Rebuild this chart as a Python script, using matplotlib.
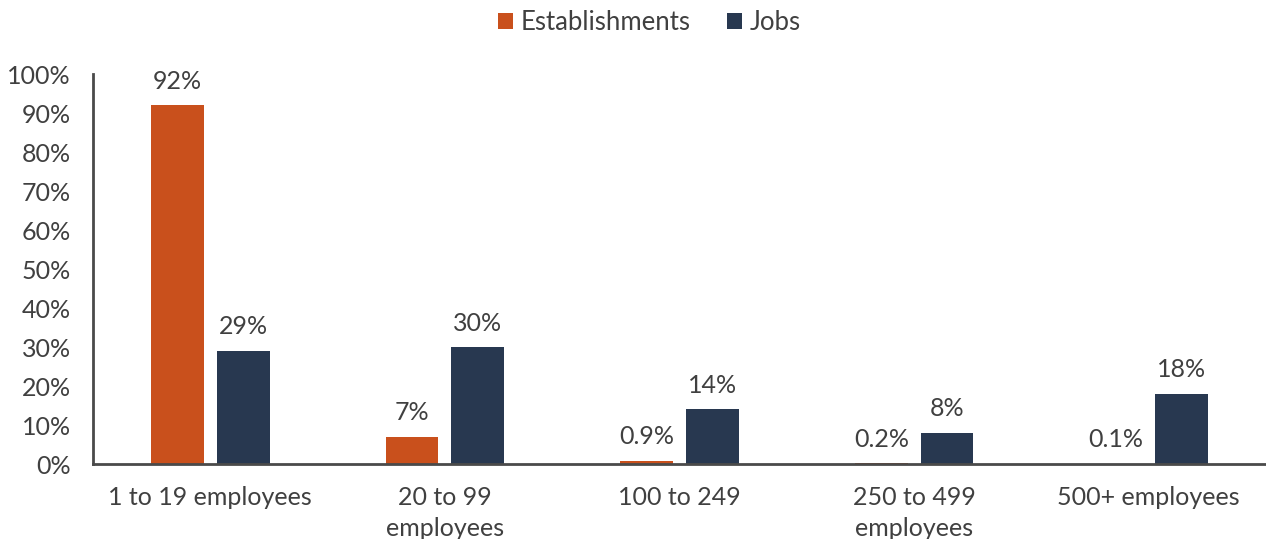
import numpy as np
import matplotlib.pyplot as plt
from matplotlib.ticker import PercentFormatter

plt.rcParams['font.family'] = ['Lato', 'DejaVu Sans']

categories = ["1 to 19 employees", "20 to 99\nemployees", "100 to 249",
              "250 to 499\nemployees", "500+ employees"]
establishments = [92, 7, 0.9, 0.2, 0.1]
jobs = [29, 30, 14, 8, 18]
est_labels = ["92%", "7%", "0.9%", "0.2%", "0.1%"]
job_labels = ["29%", "30%", "14%", "8%", "18%"]

orange = "#c9501c"
navy = "#283850"
text_col = "#404040"
fs = 18

fig = plt.figure(figsize=(12.66, 5.39), dpi=100)
ax = fig.add_axes([0.0735, 0.139, 0.9265, 0.7237])

x = np.arange(len(categories))
w = 0.225
off = 0.14
b1 = ax.bar(x - off, establishments, w, color=orange, label="Establishments")
b2 = ax.bar(x + off, jobs, w, color=navy, label="Jobs")

for bars, labels in ((b1, est_labels), (b2, job_labels)):
    for rect, lab in zip(bars, labels):
        ax.annotate(lab, (rect.get_x() + rect.get_width() / 2, rect.get_height()),
                    xytext=(0, 9), textcoords="offset points",
                    ha="center", va="bottom", fontsize=fs, color=text_col)

ax.set_xlim(-0.5, 4.5)
ax.set_ylim(0, 100)
ax.set_yticks(range(0, 101, 10))
ax.yaxis.set_major_formatter(PercentFormatter(decimals=0))
ax.set_xticks(x)
ax.set_xticklabels(categories, linespacing=1.4)
ax.tick_params(axis="both", length=0, labelsize=fs, colors=text_col)
ax.tick_params(axis="y", pad=16)
ax.tick_params(axis="x", pad=16)

for side in ("top", "right"):
    ax.spines[side].set_visible(False)
for side in ("left", "bottom"):
    ax.spines[side].set_color("#4a4a4a")
    ax.spines[side].set_linewidth(2)

fig.legend(loc="upper center", bbox_to_anchor=(0.513, 1.024), ncol=2, frameon=False,
           fontsize=fs + 0.5, handlelength=0.6, handleheight=0.6, handletextpad=0.3,
           columnspacing=1.4, labelcolor=text_col)

fig.savefig("out.png", dpi=100)
